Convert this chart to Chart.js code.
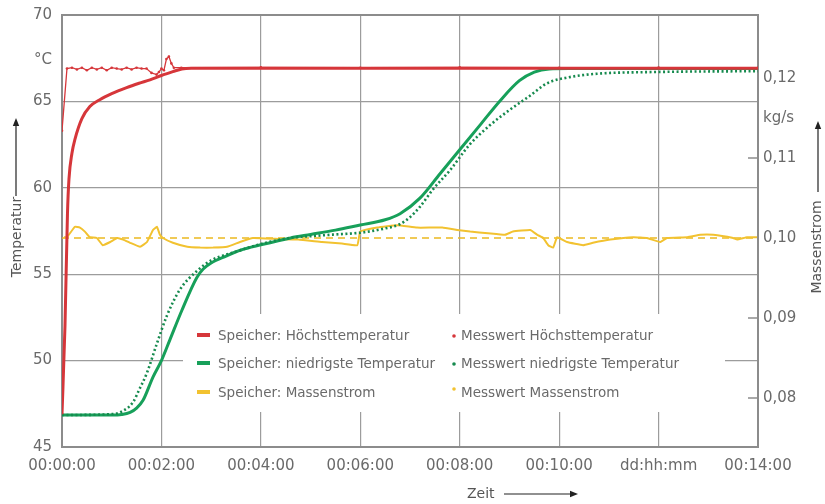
<!DOCTYPE html>
<html><head><meta charset="utf-8">
<script src="https://cdn.jsdelivr.net/npm/chart.js@4/dist/chart.umd.min.js"></script>
<style>html,body{margin:0;padding:0;background:#fff}#wrap{width:825px;height:504px}</style>
</head><body><div id="wrap"><canvas id="c" width="825" height="504"></canvas></div>
<script>
// ---- tick labels ----
const xTickLabels = ["00:00:00","00:02:00","00:04:00","00:06:00","00:08:00","00:10:00","dd:hh:mm","00:14:00"];
const leftTickValues = [45, 50, 55, 60, 65, 67.4, 70];
const leftTickLabels = ["45", "50", "55", "60", "65", "°C", "70"];
const rightTickValues = [0.08, 0.09, 0.10, 0.11, 0.115, 0.12];
const rightTickLabels = ["0,08", "0,09", "0,10", "0,11", "kg/s", "0,12"];

// ---- series (time in minutes) ----
const tMaxModel = [0, 0.06, 0.11, 0.14, 0.2, 0.26, 0.4, 0.56, 0.76, 1.0, 1.3, 1.55, 1.77, 2.0, 2.23, 2.41, 2.6, 3.0, 14];
const maxModel  = [46.9, 52.0, 58.5, 60.5, 62.0, 62.8, 64.0, 64.7, 65.1, 65.45, 65.8, 66.05, 66.25, 66.5, 66.72, 66.88, 66.92, 66.92, 66.92];

const tMaxMeas = [0, 0.1, 0.2, 0.3, 0.4, 0.5, 0.6, 0.7, 0.8, 0.9, 1.0, 1.1, 1.2, 1.3, 1.4, 1.5, 1.6, 1.7, 1.8, 1.9, 1.95, 2.0, 2.05, 2.1, 2.15, 2.2, 2.25, 2.4, 4, 6, 8, 10, 12, 14];
const maxMeas  = [63.3, 66.9, 66.95, 66.85, 66.95, 66.8, 66.95, 66.85, 66.95, 66.8, 66.95, 66.9, 66.85, 66.95, 66.85, 66.95, 66.9, 66.9, 66.65, 66.55, 66.7, 66.9, 66.8, 67.45, 67.6, 67.2, 66.95, 66.95, 66.97, 66.95, 66.97, 66.95, 66.96, 66.95];

const tMinModel = [0, 1.0, 1.2, 1.37, 1.5, 1.63, 1.83, 2.0, 2.17, 2.41, 2.71, 2.84, 3.0, 3.3, 3.6, 4.0, 4.6, 5.0, 5.5, 6.0, 6.5, 6.8, 7.2, 7.6, 8.0, 8.4, 8.8, 9.2, 9.5, 9.8, 10.2, 14];
const minModel  = [46.85, 46.85, 46.88, 47.0, 47.25, 47.7, 49.05, 50.0, 51.2, 52.9, 54.8, 55.3, 55.65, 56.05, 56.4, 56.7, 57.1, 57.3, 57.55, 57.85, 58.15, 58.5, 59.4, 60.8, 62.2, 63.6, 65.0, 66.2, 66.7, 66.88, 66.9, 66.9];

const tMinMeas = [0, 1.0, 1.2, 1.43, 1.55, 1.71, 1.91, 2.11, 2.37, 2.72, 3.0, 3.5, 4.0, 4.6, 5.0, 5.5, 6.0, 6.5, 6.8, 7.0, 7.2, 7.46, 7.8, 8.2, 8.6, 9.0, 9.4, 9.76, 10.2, 10.76, 11.9, 14];
const minMeas  = [46.85, 46.9, 47.05, 47.6, 48.3, 49.3, 51.0, 52.6, 54.1, 55.2, 55.8, 56.3, 56.75, 57.1, 57.2, 57.3, 57.4, 57.65, 57.9, 58.3, 58.9, 59.9, 61.0, 62.5, 63.6, 64.5, 65.3, 66.05, 66.4, 66.6, 66.7, 66.75];

const tFlowModel = [0, 14];
const flowModel  = [0.100, 0.100];

const tFlowMeas = [0.04, 0.1, 0.26, 0.36, 0.46, 0.56, 0.70, 0.82, 0.97, 1.11, 1.23, 1.37, 1.57, 1.71, 1.83, 1.91, 1.97, 2.03, 2.23, 2.52, 2.78, 3.04, 3.32, 3.58, 3.84, 4.29, 4.75, 5.23, 5.63, 5.94, 6.0, 6.34, 6.74, 7.14, 7.65, 7.95, 8.21, 8.57, 8.91, 9.07, 9.42, 9.56, 9.68, 9.78, 9.88, 9.96, 10.16, 10.48, 10.68, 11.03, 11.49, 11.77, 12.03, 12.17, 12.58, 12.84, 13.1, 13.5, 13.58, 13.78, 13.98];
const flowMeas  = [0.1001, 0.1001, 0.1014, 0.1013, 0.1008, 0.1001, 0.1000, 0.0991, 0.0995, 0.1000, 0.0998, 0.0994, 0.0989, 0.0995, 0.1010, 0.1014, 0.1004, 0.1000, 0.0994, 0.0989, 0.0988, 0.0988, 0.0989, 0.0995, 0.1000, 0.0999, 0.0998, 0.0995, 0.0993, 0.0991, 0.1008, 0.1013, 0.1016, 0.1013, 0.1013, 0.1010, 0.1008, 0.1006, 0.1004, 0.1008, 0.1010, 0.1004, 0.1000, 0.0991, 0.0988, 0.1001, 0.0995, 0.0991, 0.0994, 0.0998, 0.1001, 0.1000, 0.0995, 0.1000, 0.1001, 0.1004, 0.1004, 0.1000, 0.0998, 0.1001, 0.1001];

// ---- styling ----
const RED = '#d6363a', GREEN = '#17a05a', GREEN_D = '#168a4e', YEL = '#f2c230', YEL_D = '#ebb920';
const TXT = '#6a6a6a', GRID = '#9c9c9c', FRAME = '#8c8c8c';
const FONT = 'DejaVu Sans';

const xy = (ts, vs) => ts.map((t, i) => ({x: t, y: vs[i]}));

const legendItems = [
  {col: 0, row: 0, color: RED, text: 'Speicher: Höchsttemperatur'},
  {col: 0, row: 1, color: GREEN, text: 'Speicher: niedrigste Temperatur'},
  {col: 0, row: 2, color: YEL, text: 'Speicher: Massenstrom'},
  {col: 1, row: 0, color: RED, text: 'Messwert Höchsttemperatur'},
  {col: 1, row: 1, color: GREEN_D, text: 'Messwert niedrigste Temperatur'},
  {col: 1, row: 2, color: YEL, text: 'Messwert Massenstrom'}
];

function arrow(ctx, x1, y1, x2, y2) {
  ctx.save();
  ctx.strokeStyle = '#222'; ctx.fillStyle = '#222'; ctx.lineWidth = 1.2;
  const ang = Math.atan2(y2 - y1, x2 - x1);
  const hl = 8, hw = 3.2;
  const bx = x2 - hl * Math.cos(ang), by = y2 - hl * Math.sin(ang);
  ctx.beginPath(); ctx.moveTo(x1, y1); ctx.lineTo(bx, by); ctx.stroke();
  ctx.beginPath();
  ctx.moveTo(x2, y2);
  ctx.lineTo(bx + hw * Math.sin(ang), by - hw * Math.cos(ang));
  ctx.lineTo(bx - hw * Math.sin(ang), by + hw * Math.cos(ang));
  ctx.closePath(); ctx.fill();
  ctx.restore();
}

const decor = {
  id: 'decor',
  beforeDatasetsDraw(chart) {
    const {ctx, chartArea: a} = chart;
    ctx.save();
    // legend background box
    ctx.fillStyle = '#fff';
    ctx.fillRect(a.left + 121, a.top + 299, 542, 98);
    // frame
    ctx.strokeStyle = FRAME; ctx.lineWidth = 2;
    ctx.strokeRect(a.left, a.top, a.right - a.left, a.bottom - a.top);
    // inner tick marks of right axis
    const y2 = chart.scales.y2;
    ctx.lineWidth = 1.5;
    [0.08, 0.09, 0.11].forEach(v => {
      const y = y2.getPixelForValue(v);
      ctx.beginPath(); ctx.moveTo(a.right - 10, y); ctx.lineTo(a.right, y); ctx.stroke();
    });
    ctx.restore();
  },
  afterDraw(chart) {
    const {ctx, chartArea: a} = chart;
    ctx.save();
    // legend
    const rowsY = [a.top + 320, a.top + 348, a.top + 377];
    const colX = [a.left + 135, a.left + 392];
    ctx.font = '13.5px "' + FONT + '"';
    ctx.textBaseline = 'middle'; ctx.textAlign = 'left';
    legendItems.forEach(it => {
      const x = colX[it.col], y = rowsY[it.row];
      if (it.col === 0) {
        ctx.strokeStyle = it.color; ctx.lineWidth = 4; ctx.lineCap = 'butt';
        ctx.beginPath(); ctx.moveTo(x, y); ctx.lineTo(x + 13, y); ctx.stroke();
        ctx.fillStyle = TXT; ctx.fillText(it.text, x + 21, y + 1);
      } else {
        ctx.fillStyle = it.color;
        ctx.beginPath(); ctx.arc(x, y + (it.row === 2 ? -3 : 1), 1.8, 0, Math.PI * 2); ctx.fill();
        ctx.fillStyle = TXT; ctx.fillText(it.text, x + 7, y + 1);
      }
    });
    // axis titles
    ctx.fillStyle = '#555';
    ctx.font = '14px "' + FONT + '"';
    ctx.save(); ctx.translate(17, 237); ctx.rotate(-Math.PI / 2);
    ctx.textAlign = 'center'; ctx.fillText('Temperatur', 0, 0); ctx.restore();
    arrow(ctx, 16, 196, 16, 118);
    ctx.save(); ctx.translate(817, 247); ctx.rotate(-Math.PI / 2);
    ctx.textAlign = 'center'; ctx.fillText('Massenstrom', 0, 0); ctx.restore();
    arrow(ctx, 818, 192, 818, 121);
    ctx.textAlign = 'left';
    ctx.fillText('Zeit', 467, 494);
    arrow(ctx, 504, 494, 578, 494);
    ctx.restore();
  }
};

const noVertPad = s => { s.paddingTop = 0; s.paddingBottom = 0; };

new Chart(document.getElementById('c'), {
  type: 'line',
  data: {
    datasets: [
      {label: 'Messwert Höchsttemperatur', data: xy(tMaxMeas, maxMeas), yAxisID: 'y', borderColor: RED, borderWidth: 1.3,
       pointRadius: 1.3, pointBackgroundColor: RED, pointBorderWidth: 0, tension: 0, order: 0},
      {label: 'Speicher: Höchsttemperatur', data: xy(tMaxModel, maxModel), yAxisID: 'y', borderColor: RED, borderWidth: 3,
       pointRadius: 0, cubicInterpolationMode: 'monotone', order: 1},
      {label: 'Messwert niedrigste Temperatur', data: xy(tMinMeas, minMeas), yAxisID: 'y', borderColor: GREEN_D, borderWidth: 2.6,
       borderDash: [2, 2.5], pointRadius: 0, cubicInterpolationMode: 'monotone', order: 2},
      {label: 'Speicher: niedrigste Temperatur', data: xy(tMinModel, minModel), yAxisID: 'y', borderColor: GREEN, borderWidth: 3,
       pointRadius: 0, cubicInterpolationMode: 'monotone', order: 3},
      {label: 'Messwert Massenstrom', data: xy(tFlowMeas, flowMeas), yAxisID: 'y2', borderColor: YEL, borderWidth: 2,
       pointRadius: 0, tension: 0.1, order: 4},
      {label: 'Speicher: Massenstrom', data: xy(tFlowModel, flowModel), yAxisID: 'y2', borderColor: YEL_D, borderWidth: 1.6,
       borderDash: [7, 5], pointRadius: 0, order: 5}
    ]
  },
  options: {
    responsive: false, animation: false, devicePixelRatio: 1,
    layout: {padding: {top: 15, left: 0, right: 0, bottom: 0}},
    plugins: {legend: {display: false}, tooltip: {enabled: false}},
    scales: {
      x: {
        type: 'linear', min: 0, max: 14,
        ticks: {stepSize: 2, autoSkip: false, maxRotation: 0, padding: 10, color: TXT,
                font: {family: FONT, size: 15}, callback: (v, i) => xTickLabels[i]},
        grid: {color: GRID, lineWidth: 1.2, drawTicks: false},
        border: {display: false},
        afterFit: s => { s.height = 57; }
      },
      y: {
        position: 'left', min: 45, max: 70,
        afterBuildTicks: s => { s.ticks = leftTickValues.map(v => ({value: v})); },
        ticks: {autoSkip: false, padding: 10, color: TXT, font: {family: FONT, size: 15},
                callback: (v) => leftTickLabels[leftTickValues.indexOf(v)]},
        grid: {drawTicks: false, lineWidth: 1.2,
               color: c => [50, 55, 60, 65].includes(c.tick && c.tick.value) ? GRID : 'rgba(0,0,0,0)'},
        border: {display: false},
        afterFit: s => { s.width = 62; noVertPad(s); }
      },
      y2: {
        position: 'right', min: 0.073875, max: 0.127875,
        afterBuildTicks: s => { s.ticks = rightTickValues.map(v => ({value: v})); },
        ticks: {autoSkip: false, padding: 5, color: TXT, font: {family: FONT, size: 15},
                callback: (v) => rightTickLabels[rightTickValues.indexOf(v)]},
        grid: {drawOnChartArea: false, drawTicks: false},
        border: {display: false},
        afterFit: s => { s.width = 67; noVertPad(s); }
      }
    }
  },
  plugins: [decor]
});
</script>
</body></html>
